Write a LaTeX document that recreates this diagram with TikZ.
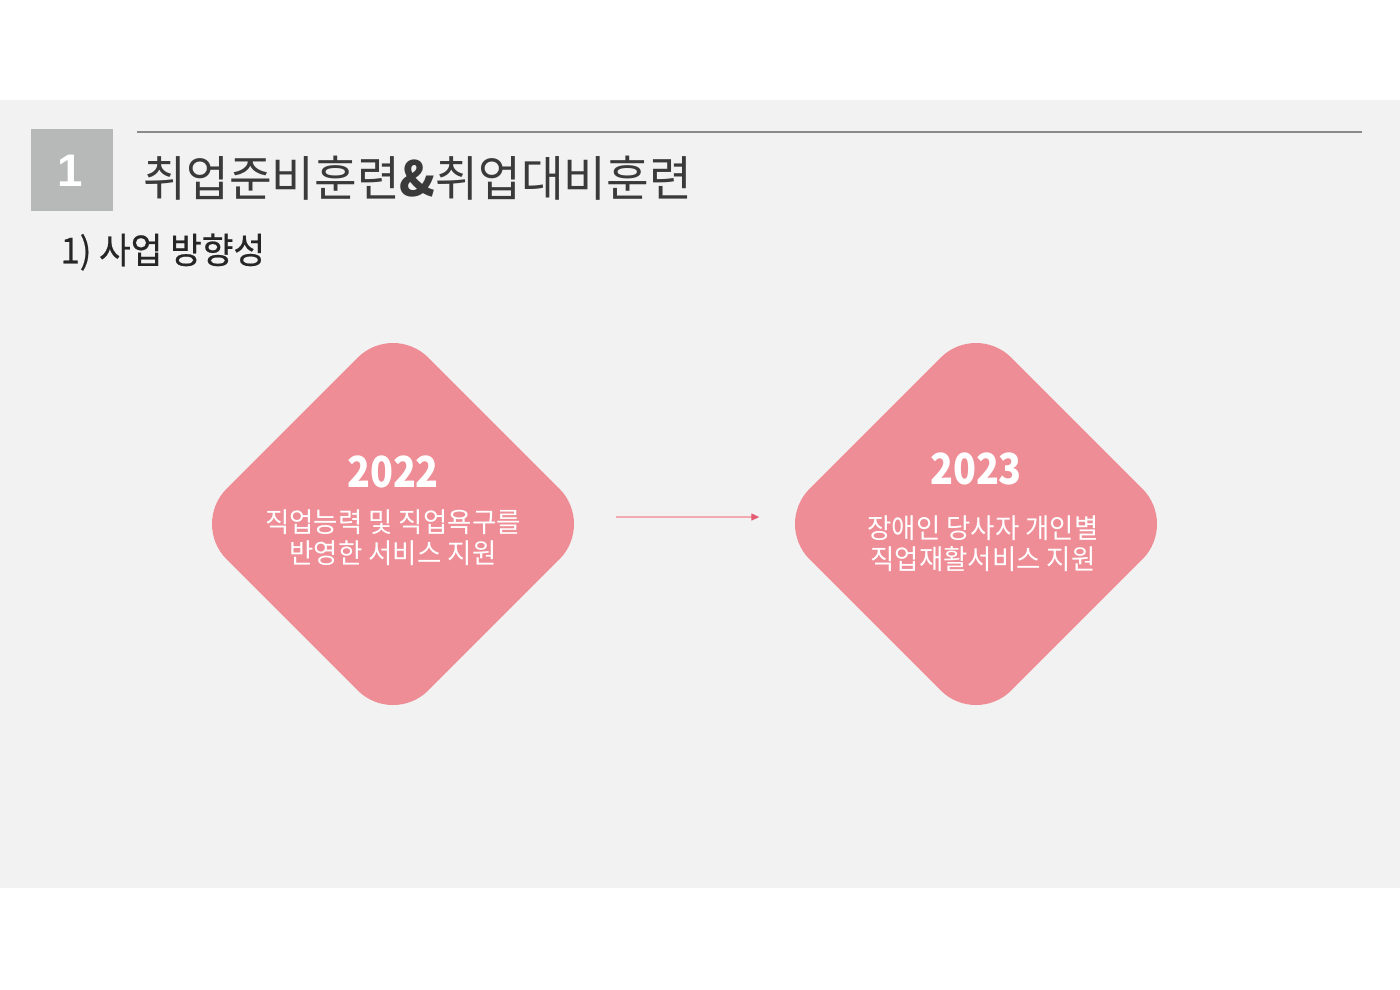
\documentclass[tikz,border=0pt]{standalone}
\usepackage{fontspec}
\usetikzlibrary{shapes.geometric,arrows.meta}
\newfontfamily\krfont[FakeStretch=0.96]{Noto Sans CJK KR}
\newfontfamily\krmid[FakeStretch=0.96, FakeBold=0.6]{Noto Sans CJK KR}
\newfontfamily\yearfont[FakeStretch=0.88]{Noto Sans CJK KR}
\newfontfamily\numfont{Liberation Sans}
\definecolor{bandgray}{HTML}{F2F2F2}
\definecolor{boxgray}{HTML}{B7B9B8}
\definecolor{rulegray}{HTML}{8A8A8A}
\definecolor{titlegray}{HTML}{3A3A3A}
\definecolor{pinkfill}{HTML}{EE8D96}
\definecolor{arrowpink}{HTML}{F2A9B1}
\definecolor{tipred}{HTML}{E45C72}
\begin{document}
\begin{tikzpicture}[
    phase/.style={shape=diamond, minimum width=4.04cm, minimum height=4.04cm, inner sep=0pt, rounded corners=0.5cm, fill=pinkfill, draw=none},
    year/.style={text=white, font=\yearfont\bfseries\fontsize{12.2pt}{14pt}\selectfont, inner sep=0pt},
    goal/.style={text=white, font=\krfont\fontsize{7.85pt}{8.8pt}\selectfont, align=center, inner sep=0pt},
    flow/.style={draw=arrowpink, line width=0.35pt, -{Triangle[length=0.8mm, width=0.7mm, color=tipred]}}
  ]
        \useasboundingbox (0,0) rectangle (14,-9.89);
        \fill[white] (0,0) rectangle (14,-9.89);
        \fill[bandgray] (0,-1.00) rectangle (14,-8.88);

        \fill[boxgray] (0.31,-1.29) rectangle (1.13,-2.11);
        \node[text=white, font=\numfont\bfseries\fontsize{13pt}{15pt}\selectfont] (num) at (0.70,-1.71) {1};
        \draw[rulegray, line width=0.4pt] (1.37,-1.32) -- (13.62,-1.32);
        \node[anchor=west, inner sep=0pt, text=titlegray, font=\krfont\fontsize{13.75pt}{15pt}\selectfont] (title) at (1.43,-1.78) {취업준비훈련{\bfseries\&}취업대비훈련};
        \node[anchor=west, inner sep=0pt, text=black!85, font=\krmid\fontsize{10.2pt}{12pt}\selectfont] (sub) at (0.60,-2.52) {1) 사업 방향성};

        \node[phase] (d1) at (3.93,-5.24) {};
        \node[phase] (d2) at (9.76,-5.24) {};

        \node[year] (y1) at ([yshift=0.52cm]d1.center) {2022};
        \node[goal] (g1) at ([yshift=-0.135cm]d1.center) {직업능력 및 직업욕구를\\[0.2pt]반영한 서비스 지원};
        \node[year] (y2) at ([yshift=0.55cm]d2.center) {2023};
        \node[goal] (g2) at ([xshift=0.07cm, yshift=-0.195cm]d2.center) {장애인 당사자 개인별\\[0.2pt]직업재활서비스 지원};

        \draw[flow] ([xshift=0.20cm, yshift=0.07cm]d1.east) -- ([xshift=-0.14cm, yshift=0.07cm]d2.west);
\end{tikzpicture}
\end{document}
